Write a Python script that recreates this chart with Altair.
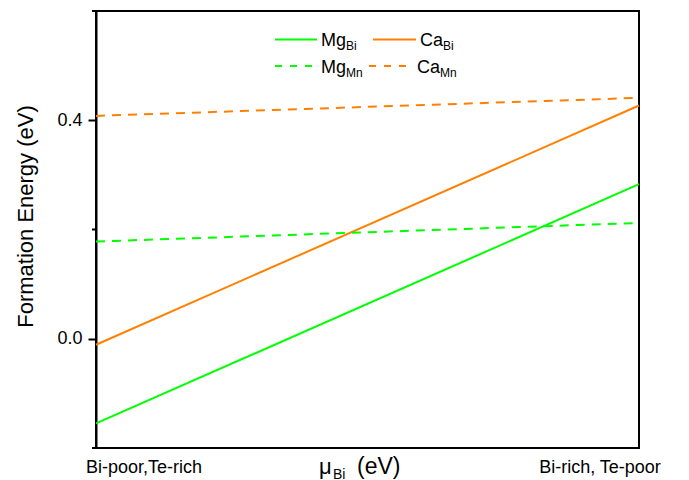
import altair as alt
import pandas as pd

# Chemical-potential endpoints (0 = Bi-poor/Te-rich, 1 = Bi-rich/Te-poor)
mu_points = [0.0, 1.0]

# Formation energies (eV) at the two endpoints
mg_bi = [-0.155, 0.283]
ca_bi = [-0.011, 0.427]
mg_mn = [0.178, 0.212]
ca_mn = [0.408, 0.441]

series_names = ["Mg_Bi", "Ca_Bi", "Mg_Mn", "Ca_Mn"]
series_values = [mg_bi, ca_bi, mg_mn, ca_mn]
series_colors = ["#00FF00", "#FF8000", "#00FF00", "#FF8000"]

y_major_ticks = [0.0, 0.4]
y_minor_ticks = [-0.2, 0.2, 0.6]
x_end_labels = ["Bi-poor,Te-rich", "Bi-rich, Te-poor"]

FONT = "Liberation Sans"
W, H = 543, 437

rows = []
for name, vals in zip(series_names, series_values):
    for x, y in zip(mu_points, vals):
        rows.append({"series": name, "x": x, "y": y})
df = pd.DataFrame(rows)

color_scale = alt.Scale(domain=series_names, range=series_colors)
x_enc = alt.X("x:Q", scale=alt.Scale(domain=[0, 1], nice=False), axis=None)
y_axis = alt.Axis(
    values=y_major_ticks, format=".1f", tickSize=8, tickWidth=2,
    labelPadding=6, labelFontSize=18, labelColor="black",
    title="Formation Energy (eV)", titleFontSize=22, titleFontWeight="normal",
    titleColor="black", titlePadding=19, titleY=205,
    domainColor="black", domainWidth=2, tickColor="black", grid=False,
)
y_enc = alt.Y("y:Q", scale=alt.Scale(domain=[-0.2, 0.6], nice=False, zero=False), axis=y_axis)

solid = alt.Chart(df[df["series"].str.endswith("Bi")]).mark_line(strokeWidth=2).encode(
    x=x_enc, y=y_enc,
    color=alt.Color("series:N", scale=color_scale, legend=None),
)
dashed = alt.Chart(df[df["series"].str.endswith("Mn")]).mark_line(
    strokeWidth=2, strokeDash=[9, 7]
).encode(
    x=x_enc, y=y_enc,
    color=alt.Color("series:N", scale=color_scale, legend=None),
)

# short unlabeled ticks on the y axis
minor = alt.Chart(pd.DataFrame({"y": y_minor_ticks})).mark_rule(
    color="black", strokeWidth=2
).encode(y=y_enc, x=alt.value(-4), x2=alt.value(0))

layers = [solid, dashed, minor]

# x-axis end labels and the mu_Bi axis title
for label, px in zip(x_end_labels, [48, 504]):
    layers.append(
        alt.Chart(pd.DataFrame({"t": [label]})).mark_text(
            font=FONT, fontSize=18, align="center", baseline="alphabetic", color="black"
        ).encode(text="t:N", x=alt.value(px), y=alt.value(461.5))
    )

title_parts = [("\u03bc", 223, 463, 22), ("Bi", 237, 467.5, 14), ("(eV)", 261, 463, 23)]
for txt, px, py, fs in title_parts:
    layers.append(
        alt.Chart(pd.DataFrame({"t": [txt]})).mark_text(
            font=FONT, fontSize=fs, align="left", baseline="alphabetic", color="black"
        ).encode(text="t:N", x=alt.value(px), y=alt.value(py))
    )

# legend: two rows, two columns
legend_entries = [
    # name, main, sub, line x0, line x1, text x, sub x, row y, dashed
    ("Mg_Bi", "Mg", "Bi", 179, 221, 225, 250, 28.5, False),
    ("Ca_Bi", "Ca", "Bi", 277, 320, 324, 347, 28.5, False),
    ("Mg_Mn", "Mg", "Mn", 179, 221, 225, 250, 55, True),
    ("Ca_Mn", "Ca", "Mn", 273, 317, 321, 344, 55, True),
]
for name, main, sub, x0, x1, tx, sx, ry, is_dashed in legend_entries:
    col = series_colors[series_names.index(name)]
    rule_kw = {"strokeDash": [7, 8]} if is_dashed else {}
    layers.append(
        alt.Chart(pd.DataFrame({"s": [name]})).mark_rule(
            color=col, strokeWidth=2, **rule_kw
        ).encode(x=alt.value(x0), x2=alt.value(x1), y=alt.value(ry))
    )
    layers.append(
        alt.Chart(pd.DataFrame({"t": [main]})).mark_text(
            font=FONT, fontSize=18, align="left", baseline="alphabetic", color="black"
        ).encode(text="t:N", x=alt.value(tx), y=alt.value(ry + 6.5))
    )
    layers.append(
        alt.Chart(pd.DataFrame({"t": [sub]})).mark_text(
            font=FONT, fontSize=12, align="left", baseline="alphabetic", color="black"
        ).encode(text="t:N", x=alt.value(sx), y=alt.value(ry + 10.5))
    )

chart = alt.layer(*layers).properties(
    width=W, height=H,
    autosize=alt.AutoSizeParams(type="none"),
    padding={"left": 96, "top": 11, "right": 50, "bottom": 32},
).configure(
    font=FONT, background="white"
).configure_view(
    stroke="black", strokeWidth=2
)

chart.save("out.html", embed_options={"renderer": "svg", "actions": False})
